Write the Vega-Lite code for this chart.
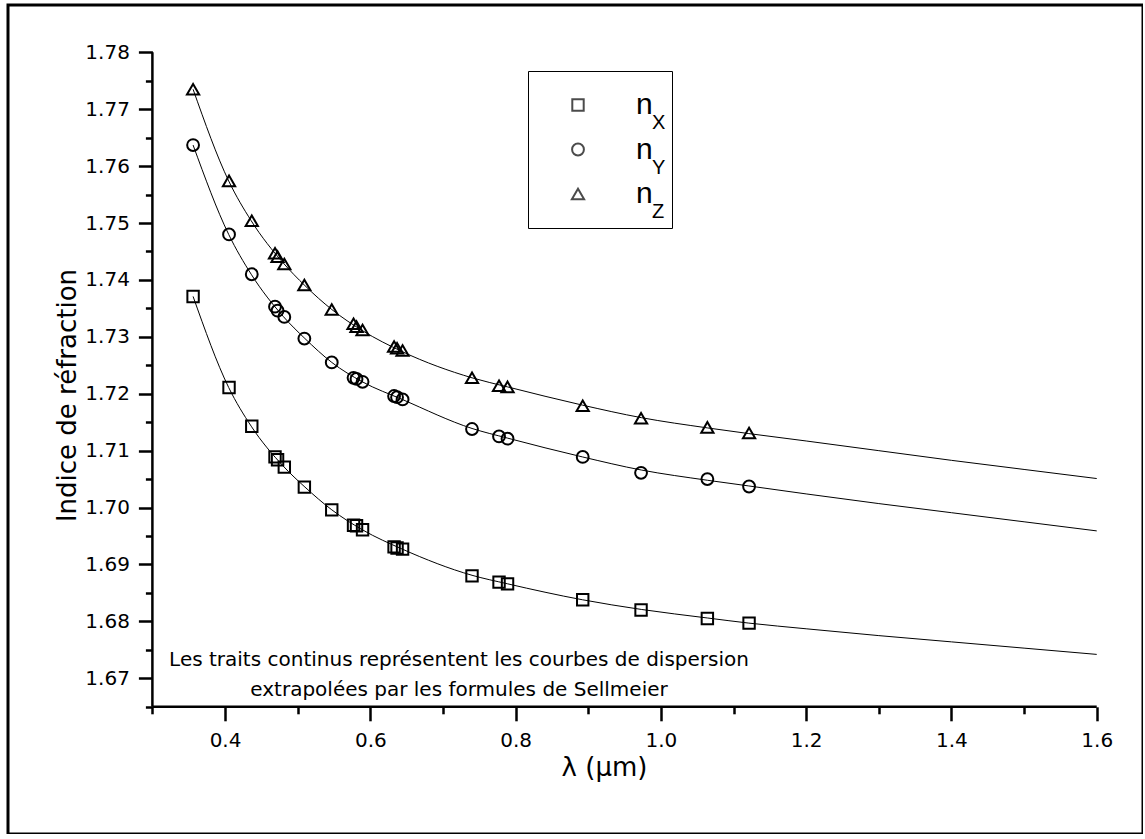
{
  "$schema": "https://vega.github.io/schema/vega-lite/v6.json",
  "width": 1135,
  "height": 829,
  "autosize": {"type": "none"},
  "padding": {"left": 8, "top": 5, "right": 0, "bottom": 0},
  "background": "white",
  "config": {
    "view": {"stroke": "black", "strokeWidth": 3},
    "font": "Comic Sans MS, DejaVu Sans"
  },
  "datasets": {
    "curves": [
      {"series": "nX", "lambda": 0.356, "n": 1.7371},
      {"series": "nX", "lambda": 0.405, "n": 1.7211},
      {"series": "nX", "lambda": 0.436, "n": 1.7143},
      {"series": "nX", "lambda": 0.48, "n": 1.7073},
      {"series": "nX", "lambda": 0.51, "n": 1.7036},
      {"series": "nX", "lambda": 0.547, "n": 1.6996},
      {"series": "nX", "lambda": 0.589, "n": 1.6961},
      {"series": "nX", "lambda": 0.644, "n": 1.6927},
      {"series": "nX", "lambda": 0.74, "n": 1.6881},
      {"series": "nX", "lambda": 0.789, "n": 1.6866},
      {"series": "nX", "lambda": 0.892, "n": 1.6838},
      {"series": "nX", "lambda": 0.973, "n": 1.6821},
      {"series": "nX", "lambda": 1.064, "n": 1.6806},
      {"series": "nX", "lambda": 1.121, "n": 1.6797},
      {"series": "nX", "lambda": 1.2, "n": 1.6787},
      {"series": "nX", "lambda": 1.3, "n": 1.6775},
      {"series": "nX", "lambda": 1.4, "n": 1.6764},
      {"series": "nX", "lambda": 1.5, "n": 1.6753},
      {"series": "nX", "lambda": 1.6, "n": 1.6742},
      {"series": "nY", "lambda": 0.356, "n": 1.7637},
      {"series": "nY", "lambda": 0.405, "n": 1.748},
      {"series": "nY", "lambda": 0.436, "n": 1.741},
      {"series": "nY", "lambda": 0.48, "n": 1.7336},
      {"series": "nY", "lambda": 0.51, "n": 1.7297},
      {"series": "nY", "lambda": 0.547, "n": 1.7255},
      {"series": "nY", "lambda": 0.589, "n": 1.7221},
      {"series": "nY", "lambda": 0.644, "n": 1.719},
      {"series": "nY", "lambda": 0.74, "n": 1.7139},
      {"series": "nY", "lambda": 0.789, "n": 1.7122},
      {"series": "nY", "lambda": 0.892, "n": 1.7089},
      {"series": "nY", "lambda": 0.973, "n": 1.7066},
      {"series": "nY", "lambda": 1.064, "n": 1.7048},
      {"series": "nY", "lambda": 1.121, "n": 1.7038},
      {"series": "nY", "lambda": 1.2, "n": 1.7024},
      {"series": "nY", "lambda": 1.3, "n": 1.7007},
      {"series": "nY", "lambda": 1.4, "n": 1.6991},
      {"series": "nY", "lambda": 1.5, "n": 1.6975},
      {"series": "nY", "lambda": 1.6, "n": 1.6959},
      {"series": "nZ", "lambda": 0.356, "n": 1.7735},
      {"series": "nZ", "lambda": 0.405, "n": 1.7574},
      {"series": "nZ", "lambda": 0.436, "n": 1.7504},
      {"series": "nZ", "lambda": 0.48, "n": 1.743},
      {"series": "nZ", "lambda": 0.51, "n": 1.739},
      {"series": "nZ", "lambda": 0.547, "n": 1.7348},
      {"series": "nZ", "lambda": 0.589, "n": 1.7311},
      {"series": "nZ", "lambda": 0.644, "n": 1.7274},
      {"series": "nZ", "lambda": 0.74, "n": 1.7228},
      {"series": "nZ", "lambda": 0.789, "n": 1.7212},
      {"series": "nZ", "lambda": 0.892, "n": 1.718},
      {"series": "nZ", "lambda": 0.973, "n": 1.7158},
      {"series": "nZ", "lambda": 1.064, "n": 1.714},
      {"series": "nZ", "lambda": 1.121, "n": 1.713},
      {"series": "nZ", "lambda": 1.2, "n": 1.7117},
      {"series": "nZ", "lambda": 1.3, "n": 1.71},
      {"series": "nZ", "lambda": 1.4, "n": 1.7083},
      {"series": "nZ", "lambda": 1.5, "n": 1.7067},
      {"series": "nZ", "lambda": 1.6, "n": 1.7051}
    ],
    "points": [
      {"series": "nX", "sub": "X", "lambda": 0.356, "n": 1.7371},
      {"series": "nX", "sub": "X", "lambda": 0.4055, "n": 1.7211},
      {"series": "nX", "sub": "X", "lambda": 0.4368, "n": 1.7143},
      {"series": "nX", "sub": "X", "lambda": 0.4688, "n": 1.7089},
      {"series": "nX", "sub": "X", "lambda": 0.4723, "n": 1.7084},
      {"series": "nX", "sub": "X", "lambda": 0.4816, "n": 1.7071},
      {"series": "nX", "sub": "X", "lambda": 0.5092, "n": 1.7036},
      {"series": "nX", "sub": "X", "lambda": 0.5469, "n": 1.6996},
      {"series": "nX", "sub": "X", "lambda": 0.5769, "n": 1.6969},
      {"series": "nX", "sub": "X", "lambda": 0.581, "n": 1.6968},
      {"series": "nX", "sub": "X", "lambda": 0.5893, "n": 1.6961},
      {"series": "nX", "sub": "X", "lambda": 0.6327, "n": 1.6931},
      {"series": "nX", "sub": "X", "lambda": 0.6368, "n": 1.6929},
      {"series": "nX", "sub": "X", "lambda": 0.6444, "n": 1.6927},
      {"series": "nX", "sub": "X", "lambda": 0.74, "n": 1.688},
      {"series": "nX", "sub": "X", "lambda": 0.7772, "n": 1.6869},
      {"series": "nX", "sub": "X", "lambda": 0.7889, "n": 1.6866},
      {"series": "nX", "sub": "X", "lambda": 0.8924, "n": 1.6838},
      {"series": "nX", "sub": "X", "lambda": 0.9727, "n": 1.682},
      {"series": "nX", "sub": "X", "lambda": 1.064, "n": 1.6805},
      {"series": "nX", "sub": "X", "lambda": 1.1214, "n": 1.6797},
      {"series": "nY", "sub": "Y", "lambda": 0.356, "n": 1.7637},
      {"series": "nY", "sub": "Y", "lambda": 0.4055, "n": 1.748},
      {"series": "nY", "sub": "Y", "lambda": 0.4368, "n": 1.741},
      {"series": "nY", "sub": "Y", "lambda": 0.4688, "n": 1.7353},
      {"series": "nY", "sub": "Y", "lambda": 0.4723, "n": 1.7346},
      {"series": "nY", "sub": "Y", "lambda": 0.4816, "n": 1.7335},
      {"series": "nY", "sub": "Y", "lambda": 0.5092, "n": 1.7297},
      {"series": "nY", "sub": "Y", "lambda": 0.5469, "n": 1.7255},
      {"series": "nY", "sub": "Y", "lambda": 0.5769, "n": 1.7228},
      {"series": "nY", "sub": "Y", "lambda": 0.581, "n": 1.7226},
      {"series": "nY", "sub": "Y", "lambda": 0.5893, "n": 1.7221},
      {"series": "nY", "sub": "Y", "lambda": 0.6327, "n": 1.7196},
      {"series": "nY", "sub": "Y", "lambda": 0.6368, "n": 1.7194},
      {"series": "nY", "sub": "Y", "lambda": 0.6444, "n": 1.719},
      {"series": "nY", "sub": "Y", "lambda": 0.74, "n": 1.7138},
      {"series": "nY", "sub": "Y", "lambda": 0.7772, "n": 1.7125},
      {"series": "nY", "sub": "Y", "lambda": 0.7889, "n": 1.7121},
      {"series": "nY", "sub": "Y", "lambda": 0.8924, "n": 1.7089},
      {"series": "nY", "sub": "Y", "lambda": 0.9727, "n": 1.7061},
      {"series": "nY", "sub": "Y", "lambda": 1.064, "n": 1.705},
      {"series": "nY", "sub": "Y", "lambda": 1.1214, "n": 1.7037},
      {"series": "nZ", "sub": "Z", "lambda": 0.356, "n": 1.7735},
      {"series": "nZ", "sub": "Z", "lambda": 0.4055, "n": 1.7574},
      {"series": "nZ", "sub": "Z", "lambda": 0.4368, "n": 1.7504},
      {"series": "nZ", "sub": "Z", "lambda": 0.4688, "n": 1.7447},
      {"series": "nZ", "sub": "Z", "lambda": 0.4723, "n": 1.7441},
      {"series": "nZ", "sub": "Z", "lambda": 0.4816, "n": 1.7428},
      {"series": "nZ", "sub": "Z", "lambda": 0.5092, "n": 1.7391},
      {"series": "nZ", "sub": "Z", "lambda": 0.5469, "n": 1.7348},
      {"series": "nZ", "sub": "Z", "lambda": 0.5769, "n": 1.7323},
      {"series": "nZ", "sub": "Z", "lambda": 0.581, "n": 1.7318},
      {"series": "nZ", "sub": "Z", "lambda": 0.5893, "n": 1.7312},
      {"series": "nZ", "sub": "Z", "lambda": 0.6327, "n": 1.7283},
      {"series": "nZ", "sub": "Z", "lambda": 0.6368, "n": 1.728},
      {"series": "nZ", "sub": "Z", "lambda": 0.6444, "n": 1.7276},
      {"series": "nZ", "sub": "Z", "lambda": 0.74, "n": 1.7228},
      {"series": "nZ", "sub": "Z", "lambda": 0.7772, "n": 1.7214},
      {"series": "nZ", "sub": "Z", "lambda": 0.7889, "n": 1.7212},
      {"series": "nZ", "sub": "Z", "lambda": 0.8924, "n": 1.7179},
      {"series": "nZ", "sub": "Z", "lambda": 0.9727, "n": 1.7157},
      {"series": "nZ", "sub": "Z", "lambda": 1.064, "n": 1.7141},
      {"series": "nZ", "sub": "Z", "lambda": 1.1214, "n": 1.7131}
    ]
  },
  "encoding": {
    "x": {
      "field": "lambda",
      "type": "quantitative",
      "scale": {"domain": [0.10121, 1.66371], "nice": false, "zero": false},
      "axis": {
        "values": [0.3, 0.4, 0.5, 0.6, 0.7, 0.8, 0.9, 1.0, 1.1, 1.2, 1.3, 1.4, 1.5, 1.6],
        "domain": false,
        "grid": false,
        "offset": -127.2,
        "tickColor": "black",
        "tickWidth": 2.5,
        "tickSize": {"condition": {"test": "round(datum.value*10)%2==0", "value": 14}, "value": 7},
        "labelExpr": "round(datum.value*10)%2==0 ? format(datum.value,'.1f') : ''",
        "labelFontSize": 20,
        "labelColor": "black",
        "labelPadding": 10,
        "labelFlush": false,
        "labelOverlap": false,
        "title": "λ (µm)",
        "titleFontSize": 26,
        "titleFontWeight": "normal",
        "titleColor": "black",
        "titleX": 596,
        "titleY": 61,
        "titleAlign": "center",
        "titleBaseline": "middle"
      }
    },
    "y": {
      "field": "n",
      "type": "quantitative",
      "scale": {"domain": [1.64264, 1.78831], "nice": false, "zero": false},
      "axis": {
        "values": [1.665, 1.67, 1.675, 1.68, 1.685, 1.69, 1.695, 1.7, 1.705, 1.71, 1.715, 1.72, 1.725, 1.73, 1.735, 1.74, 1.745, 1.75, 1.755, 1.76, 1.765, 1.77, 1.775, 1.78],
        "domain": false,
        "grid": false,
        "offset": -144.4,
        "tickColor": "black",
        "tickWidth": 2.5,
        "tickSize": {"condition": {"test": "abs(datum.value*100-round(datum.value*100))<0.01", "value": 14}, "value": 7},
        "labelExpr": "abs(datum.value*100-round(datum.value*100))<0.01 ? format(datum.value,'.2f') : ''",
        "labelFontSize": 20,
        "labelColor": "black",
        "labelPadding": 9,
        "labelFlush": false,
        "labelOverlap": false,
        "title": "Indice de réfraction",
        "titleFontSize": 26,
        "titleFontWeight": "normal",
        "titleColor": "black",
        "titleX": -84.4,
        "titleY": 390,
        "titleAlign": "center",
        "titleBaseline": "middle"
      }
    }
  },
  "layer": [
    {
      "data": {"name": "curves"},
      "mark": {"type": "line", "color": "black", "strokeWidth": 1, "interpolate": "monotone"},
      "encoding": {"detail": {"field": "series", "type": "nominal"}}
    },
    {
      "data": {"name": "points"},
      "mark": {"type": "point", "filled": false, "stroke": "black", "strokeWidth": 2},
      "encoding": {
        "shape": {
          "field": "series",
          "type": "nominal",
          "scale": {"domain": ["nX", "nY", "nZ"], "range": ["square", "circle", "triangle-up"]},
          "legend": {
            "orient": "none",
            "legendX": 520,
            "legendY": 66,
            "title": null,
            "strokeColor": "black",
            "padding": 19,
            "symbolOffset": 16,
            "labelOffset": 43,
            "labelFont": "Liberation Sans",
            "labelFontSize": 30,
            "labelColor": "black",
            "rowPadding": 14.5,
            "symbolSize": 170,
            "symbolOpacity": 1,
            "symbolStrokeColor": "black",
            "symbolStrokeWidth": 2,
            "symbolFillColor": "transparent",
            "labelExpr": "'n'",
            "encode": {
              "symbols": {
                "update": {
                  "opacity": {"value": 1},
                  "stroke": {"value": "black"},
                  "strokeWidth": {"value": 2},
                  "size": {"value": 170}
                }
              }
            }
          }
        },
        "size": {
          "field": "series",
          "type": "nominal",
          "scale": {"domain": ["nX", "nY", "nZ"], "range": [130, 150, 220]}
        },
        "opacity": {
          "field": "sub",
          "type": "nominal",
          "scale": {"domain": ["X", "Y", "Z"], "range": [1, 1, 1]},
          "legend": {
            "orient": "none",
            "legendX": 624,
            "legendY": 108,
            "title": null,
            "padding": 0,
            "symbolOpacity": 0,
            "symbolSize": 1,
            "symbolStrokeWidth": 0,
            "labelOffset": 0,
            "labelFont": "Liberation Sans",
            "labelFontSize": 20,
            "labelColor": "black",
            "rowPadding": 24.5
          }
        }
      }
    },
    {
      "data": {"values": [{"lambda": 0.3, "lambda2": 1.6, "n": 1.665}]},
      "mark": {"type": "rule", "color": "black", "strokeWidth": 2.5},
      "encoding": {"x2": {"field": "lambda2"}}
    },
    {
      "data": {"values": [{"lambda": 0.3, "n": 1.665, "n2": 1.78}]},
      "mark": {"type": "rule", "color": "black", "strokeWidth": 2.5},
      "encoding": {"y2": {"field": "n2"}}
    },
    {
      "data": {"values": [{"lambda": 0.7221, "n": 1.67322}]},
      "mark": {
        "type": "text",
        "text": ["Les traits continus représentent les courbes de dispersion", "extrapolées par les formules de Sellmeier"],
        "align": "center",
        "baseline": "middle",
        "lineHeight": 30,
        "fontSize": 20,
        "color": "black"
      },
      "encoding": {}
    }
  ]
}
